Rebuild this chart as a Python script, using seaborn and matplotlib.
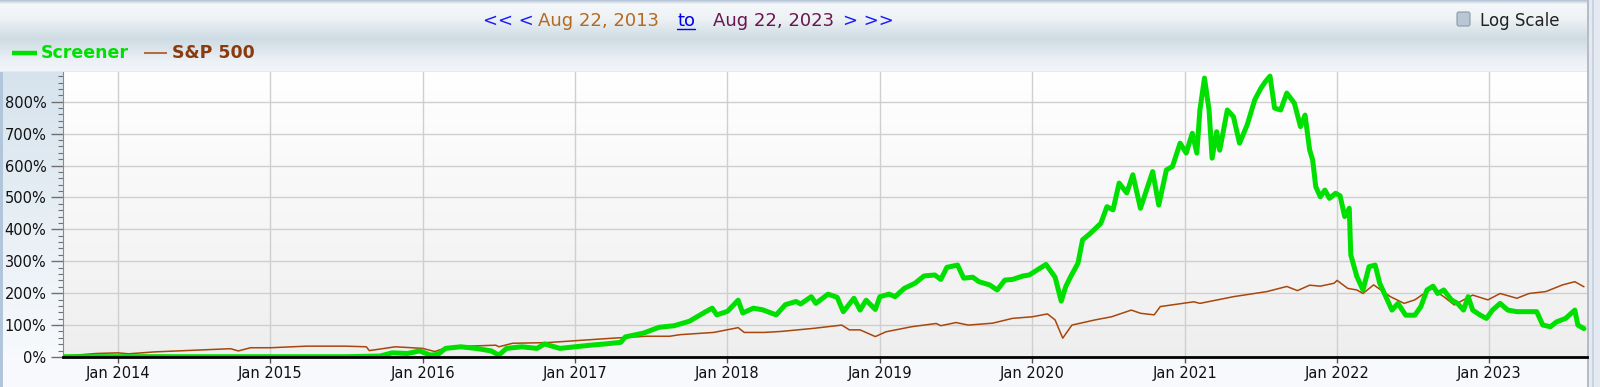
import numpy as np
import pandas as pd
import matplotlib
matplotlib.use("Agg")
import matplotlib.pyplot as plt
from matplotlib.lines import Line2D
from matplotlib.patches import FancyBboxPatch
from matplotlib.ticker import MultipleLocator, FixedLocator
import seaborn as sns

# ---------------- data ----------------
tick_years = [2014, 2015, 2016, 2017, 2018, 2019, 2020, 2021, 2022, 2023]
x_labels = ["Jan 2014", "Jan 2015", "Jan 2016", "Jan 2017", "Jan 2018",
            "Jan 2019", "Jan 2020", "Jan 2021", "Jan 2022", "Jan 2023"]
y_ticks = [0, 100, 200, 300, 400, 500, 600, 700, 800]
y_labels = ["0%", "100%", "200%", "300%", "400%", "500%", "600%", "700%", "800%"]
x_start, x_end = 2013.64, 2023.64

screener_t = [2013.64, 2014.0, 2014.5, 2015.0, 2015.5, 2015.72, 2015.80, 2015.90, 2015.98,
              2016.05, 2016.10, 2016.15, 2016.25, 2016.35, 2016.45, 2016.50, 2016.55, 2016.65,
              2016.75, 2016.80, 2016.90, 2017.0, 2017.1, 2017.2, 2017.3, 2017.33, 2017.45,
              2017.55, 2017.65, 2017.75, 2017.85, 2017.90, 2017.93, 2018.0, 2018.07, 2018.10,
              2018.17, 2018.23, 2018.32, 2018.38, 2018.45, 2018.48, 2018.55, 2018.58, 2018.66,
              2018.72, 2018.76, 2018.83, 2018.87, 2018.91, 2018.97, 2019.0, 2019.06, 2019.1,
              2019.16, 2019.23, 2019.29, 2019.36, 2019.4, 2019.44, 2019.51, 2019.55, 2019.61,
              2019.65, 2019.72, 2019.77, 2019.82, 2019.87, 2019.94, 2019.98, 2020.03, 2020.09,
              2020.12, 2020.15, 2020.19, 2020.22, 2020.25, 2020.30, 2020.33, 2020.38, 2020.45,
              2020.49, 2020.53, 2020.57, 2020.62, 2020.66, 2020.71, 2020.75, 2020.79, 2020.83,
              2020.88, 2020.92, 2020.97, 2021.01, 2021.05, 2021.08, 2021.10, 2021.13, 2021.16,
              2021.18, 2021.21, 2021.23, 2021.28, 2021.32, 2021.36, 2021.41, 2021.46, 2021.50,
              2021.53, 2021.56, 2021.59, 2021.63, 2021.67, 2021.72, 2021.76, 2021.79, 2021.82,
              2021.84, 2021.86, 2021.89, 2021.92, 2021.95, 2021.99, 2022.02, 2022.05, 2022.08,
              2022.09, 2022.13, 2022.17, 2022.21, 2022.25, 2022.28, 2022.33, 2022.36, 2022.40,
              2022.45, 2022.51, 2022.55, 2022.59, 2022.63, 2022.66, 2022.70, 2022.75, 2022.79,
              2022.83, 2022.86, 2022.89, 2022.94, 2022.98, 2023.02, 2023.07, 2023.12, 2023.18,
              2023.24, 2023.31, 2023.35, 2023.40, 2023.44, 2023.50, 2023.56, 2023.58, 2023.62]
screener_v = [1, 1, 1, 1, 1, 3, 13, 11, 19,
              6, 8, 27, 32, 27, 19, 6, 27, 32,
              27, 41, 27, 32, 37, 41, 46, 63, 75,
              93, 98, 112, 140, 153, 132, 143, 178, 138,
              153, 148, 132, 164, 174, 166, 189, 168, 197,
              187, 142, 184, 147, 178, 149, 189, 197, 189,
              215, 231, 254, 257, 243, 281, 288, 247, 250,
              236, 226, 210, 241, 243, 254, 257, 272, 290,
              270, 250, 175, 221, 250, 294, 367, 387, 419,
              471, 461, 545, 514, 571, 466, 524, 581, 476,
              586, 597, 670, 639, 701, 639, 774, 874, 774,
              623, 706, 648, 774, 753, 670, 727, 806, 842,
              863, 880, 780, 774, 827, 795, 722, 758, 649,
              617, 534, 502, 523, 497, 513, 505, 440, 466,
              320, 252, 210, 283, 288, 231, 179, 147, 168,
              131, 131, 158, 210, 222, 199, 210, 179, 168,
              147, 189, 147, 131, 121, 147, 168, 147, 142,
              142, 142, 100, 95, 110, 121, 147, 100, 89]

sp500_t = [2013.646, 2013.86, 2014.0, 2014.07, 2014.24, 2014.49, 2014.74, 2014.79, 2014.87,
           2015.0, 2015.24, 2015.49, 2015.63, 2015.65, 2015.75, 2015.82, 2016.0, 2016.08,
           2016.17, 2016.36, 2016.48, 2016.50, 2016.59, 2016.81, 2016.94, 2017.03, 2017.25,
           2017.47, 2017.62, 2017.69, 2017.91, 2018.07, 2018.11, 2018.24, 2018.35, 2018.46,
           2018.57, 2018.75, 2018.80, 2018.87, 2018.97, 2019.04, 2019.21, 2019.37, 2019.40,
           2019.50, 2019.58, 2019.74, 2019.87, 2020.0, 2020.10, 2020.15, 2020.20, 2020.26,
           2020.41, 2020.52, 2020.65, 2020.71, 2020.80, 2020.84, 2021.06, 2021.10, 2021.32,
           2021.54, 2021.67, 2021.74, 2021.82, 2021.89, 2021.98, 2022.0, 2022.07, 2022.13,
           2022.17, 2022.24, 2022.35, 2022.44, 2022.51, 2022.62, 2022.70, 2022.77, 2022.83,
           2022.89, 2022.99, 2023.07, 2023.18, 2023.26, 2023.37, 2023.48, 2023.56, 2023.62]
sp500_v = [3, 11, 13, 10, 16, 21, 26, 19, 29,
           29, 34, 34, 32, 20, 27, 32, 27, 17,
           32, 35, 37, 32, 43, 45, 49, 52, 59,
           65, 65, 70, 77, 92, 77, 77, 80, 85,
           90, 100, 85, 85, 64, 79, 95, 105, 98,
           108, 100, 106, 121, 126, 135, 116, 59, 100,
           116, 126, 147, 137, 132, 158, 173, 168, 189,
           205, 221, 208, 225, 222, 231, 240, 215, 210,
           199, 226, 189, 168, 179, 215, 189, 163, 179,
           194, 179, 199, 184, 199, 205, 226, 236, 220]

series_names = ["Screener", "S&P 500"]
title_parts = ["<< <", "Aug 22, 2013", "to", "Aug 22, 2023", "> >>"]

# ---------------- style ----------------
GREEN = "#00e000"
BROWN_LINE = "#a8460c"
BROWN_TEXT = "#8b3a0e"
BLUE = "#1a1aff"
ORANGE = "#b5681f"
PURPLE = "#6a1450"

sns.set_theme(style="white")
plt.rcParams['font.family'] = ['DejaVu Sans']

W, H = 1600, 387
fig = plt.figure(figsize=(W / 100, H / 100), dpi=100)

# ---------------- background panel ----------------
bg = np.ones((H, W, 3))
rows = np.arange(H)
# header gradient
hy = [0, 2, 4, 18, 38, 62, 70, 72]
hc = np.array([[0.72, 0.78, 0.85], [0.86, 0.89, 0.92], [0.96, 0.97, 0.98], [0.93, 0.95, 0.96],
               [0.81, 0.86, 0.89], [0.93, 0.95, 0.97], [0.95, 0.96, 0.98], [0.84, 0.88, 0.92]])
for c in range(3):
    prof = np.interp(rows[:72], hy, hc[:, c])
    bg[:72, :, c] = prof[:, None]
# left label column
ly = np.interp(rows[72:357], [72, 357], [0, 1])
for c, (a, b) in enumerate([(0.84, 0.97), (0.89, 0.98), (0.93, 0.99)]):
    bg[72:357, :63, c] = (a + (b - a) * ly)[:, None]
bg[72:, 0:3, :] = [0.70, 0.78, 0.86]
# bottom strip
bg[357:, 3:, :] = [0.975, 0.98, 0.99]
# plot gradient
py = np.interp(rows[72:357], [72, 357], [1.0, 0.935])
for c in range(3):
    bg[72:357, 63:1587, c] = py[:, None]
# right border
bg[:, 1587:, :] = [0.90, 0.92, 0.95]
bg[:, 1587:1589, :] = [0.72, 0.74, 0.77]
bg[:, 1592:1594, :] = [0.78, 0.83, 0.88]

bgax = fig.add_axes([0, 0, 1, 1], zorder=0)
bgax.imshow(bg, aspect="auto", extent=[0, W, H, 0], interpolation="nearest")
bgax.set_xlim(0, W)
bgax.set_ylim(H, 0)
bgax.axis("off")

# ---------------- main plot ----------------
ax = fig.add_axes([63 / W, 30 / H, 1524 / W, 285 / H], zorder=2)
ax.patch.set_alpha(0)

df_sp = pd.DataFrame({"t": sp500_t, "v": sp500_v})
df_sc = pd.DataFrame({"t": screener_t, "v": screener_v})
sns.lineplot(data=df_sp, x="t", y="v", ax=ax, color=BROWN_LINE, linewidth=1.1,
             sort=False, estimator=None, zorder=3)
sns.lineplot(data=df_sc, x="t", y="v", ax=ax, color=GREEN, linewidth=3.6,
             sort=False, estimator=None, zorder=4)

ax.set_xlim(x_start, x_end)
ax.set_ylim(0, 893)
ax.set_xlabel("")
ax.set_ylabel("")
ax.xaxis.set_major_locator(FixedLocator(tick_years))
ax.set_xticklabels(x_labels)
ax.yaxis.set_major_locator(FixedLocator(y_ticks))
ax.set_yticklabels(y_labels)
ax.yaxis.set_minor_locator(MultipleLocator(20))
ax.grid(True, which="major", color="#cfcfcf", linewidth=1.0)
ax.set_axisbelow(True)
ax.tick_params(axis="y", which="major", length=9, width=1, color="#707070",
               labelsize=10.5, pad=3, labelcolor="#111111", left=True)
ax.tick_params(axis="y", which="minor", length=3.5, width=0.8, color="#707070", left=True)
ax.tick_params(axis="x", which="major", length=4.5, width=1, color="#555555",
               labelsize=10.5, pad=2, labelcolor="#111111", bottom=True)
for s in ["top", "right"]:
    ax.spines[s].set_visible(False)
ax.spines["left"].set_color("#8a8a8a")
ax.spines["left"].set_linewidth(0.8)
ax.spines["bottom"].set_color("#000000")
ax.spines["bottom"].set_linewidth(2.0)
ax.spines["bottom"].set_zorder(6)

# ---------------- legend ----------------
bgax.add_line(Line2D([12, 37], [53, 53], color=GREEN, linewidth=3.2, solid_capstyle="butt"))
bgax.text(41, 53.5, series_names[0], color=GREEN, fontsize=12.5, fontweight="bold",
          va="center", ha="left")
bgax.add_line(Line2D([144, 167], [53, 53], color=BROWN_LINE, linewidth=1.1, solid_capstyle="butt"))
bgax.text(172, 53.5, series_names[1], color=BROWN_TEXT, fontsize=12.5, fontweight="bold",
          va="center", ha="left")

# ---------------- title navigation ----------------
colors = [BLUE, ORANGE, "#0000ee", PURPLE, BLUE]
lefts = [483, 538, 677, 713, 843]
for txt, col, lx in zip(title_parts, colors, lefts):
    t = bgax.text(lx, 21, txt, color=col, fontsize=13, va="center", ha="left")
    if txt == "to":
        fig.canvas.draw()
        bb = t.get_window_extent().transformed(bgax.transData.inverted())
        bgax.add_line(Line2D([bb.x0, bb.x1], [29, 29], color="#0000ee", linewidth=1.0))

# ---------------- log scale checkbox ----------------
bgax.add_patch(FancyBboxPatch((1457, 12), 13, 14, boxstyle="round,pad=0,rounding_size=2",
                              facecolor="#b9c7d4", edgecolor="#8c9aa8", linewidth=0.8))
bgax.text(1480, 20.5, "Log Scale", color="#222222", fontsize=12, va="center", ha="left")

fig.savefig("out.png", dpi=100)
